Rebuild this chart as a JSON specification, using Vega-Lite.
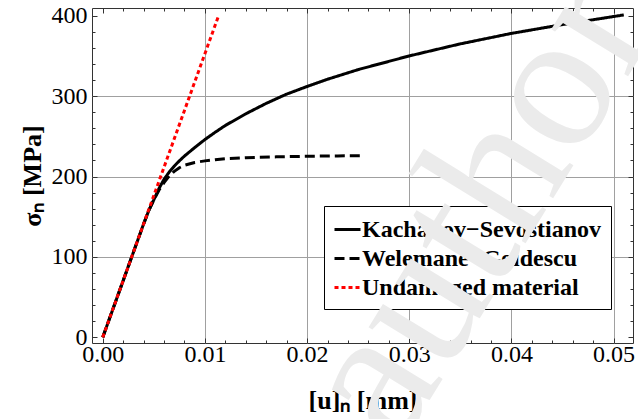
{
  "$schema": "https://vega.github.io/schema/vega-lite/v6.json",
  "width": 541,
  "height": 335,
  "autosize": "none",
  "padding": {"left": 92, "top": 8, "right": 5, "bottom": 76},
  "background": "white",
  "config": {
    "view": {"stroke": "#333333", "strokeWidth": 1},
    "font": "Liberation Serif",
    "axis": {"domain": false, "tickColor": "#333333", "tickWidth": 1, "grid": false, "labelFont": "Liberation Serif", "labelFontSize": 24, "labelColor": "black", "labelOverlap": false, "labelFlush": false, "labelBound": false}
  },
  "title": {
    "text": "author",
    "orient": "bottom",
    "anchor": "start",
    "frame": "group",
    "offset": 0,
    "font": "Liberation Serif",
    "fontSize": 196,
    "fontWeight": "normal",
    "color": "#ebebeb",
    "angle": -58.5,
    "align": "left",
    "baseline": "alphabetic",
    "dx": 128,
    "dy": 281
  },
  "data": {
    "values": [
      {"s": "Kachanov−Sevostianov", "x": 0, "y": 0},
      {"s": "Kachanov−Sevostianov", "x": 0.001, "y": 35.3},
      {"s": "Kachanov−Sevostianov", "x": 0.002, "y": 70.5},
      {"s": "Kachanov−Sevostianov", "x": 0.003, "y": 105.8},
      {"s": "Kachanov−Sevostianov", "x": 0.004, "y": 141},
      {"s": "Kachanov−Sevostianov", "x": 0.0045, "y": 157.5},
      {"s": "Kachanov−Sevostianov", "x": 0.005, "y": 171},
      {"s": "Kachanov−Sevostianov", "x": 0.0055, "y": 185},
      {"s": "Kachanov−Sevostianov", "x": 0.006, "y": 196.5},
      {"s": "Kachanov−Sevostianov", "x": 0.0065, "y": 205.5},
      {"s": "Kachanov−Sevostianov", "x": 0.007, "y": 213},
      {"s": "Kachanov−Sevostianov", "x": 0.0075, "y": 219.5},
      {"s": "Kachanov−Sevostianov", "x": 0.008, "y": 225.5},
      {"s": "Kachanov−Sevostianov", "x": 0.009, "y": 236},
      {"s": "Kachanov−Sevostianov", "x": 0.01, "y": 246},
      {"s": "Kachanov−Sevostianov", "x": 0.011, "y": 255},
      {"s": "Kachanov−Sevostianov", "x": 0.012, "y": 263.5},
      {"s": "Kachanov−Sevostianov", "x": 0.014, "y": 278},
      {"s": "Kachanov−Sevostianov", "x": 0.016, "y": 291},
      {"s": "Kachanov−Sevostianov", "x": 0.018, "y": 302.5},
      {"s": "Kachanov−Sevostianov", "x": 0.02, "y": 312},
      {"s": "Kachanov−Sevostianov", "x": 0.022, "y": 321},
      {"s": "Kachanov−Sevostianov", "x": 0.025, "y": 333},
      {"s": "Kachanov−Sevostianov", "x": 0.03, "y": 350},
      {"s": "Kachanov−Sevostianov", "x": 0.035, "y": 365},
      {"s": "Kachanov−Sevostianov", "x": 0.04, "y": 378},
      {"s": "Kachanov−Sevostianov", "x": 0.045, "y": 389},
      {"s": "Kachanov−Sevostianov", "x": 0.05, "y": 399},
      {"s": "Kachanov−Sevostianov", "x": 0.051, "y": 401},
      {"s": "Welemane−Goidescu", "x": 0, "y": 0},
      {"s": "Welemane−Goidescu", "x": 0.001, "y": 35.3},
      {"s": "Welemane−Goidescu", "x": 0.002, "y": 70.5},
      {"s": "Welemane−Goidescu", "x": 0.003, "y": 105.8},
      {"s": "Welemane−Goidescu", "x": 0.004, "y": 141},
      {"s": "Welemane−Goidescu", "x": 0.0045, "y": 157.5},
      {"s": "Welemane−Goidescu", "x": 0.005, "y": 171},
      {"s": "Welemane−Goidescu", "x": 0.0055, "y": 183},
      {"s": "Welemane−Goidescu", "x": 0.006, "y": 192.5},
      {"s": "Welemane−Goidescu", "x": 0.0065, "y": 200.5},
      {"s": "Welemane−Goidescu", "x": 0.007, "y": 206.5},
      {"s": "Welemane−Goidescu", "x": 0.0075, "y": 211},
      {"s": "Welemane−Goidescu", "x": 0.008, "y": 214},
      {"s": "Welemane−Goidescu", "x": 0.009, "y": 217.5},
      {"s": "Welemane−Goidescu", "x": 0.01, "y": 219.5},
      {"s": "Welemane−Goidescu", "x": 0.011, "y": 221},
      {"s": "Welemane−Goidescu", "x": 0.012, "y": 222.2},
      {"s": "Welemane−Goidescu", "x": 0.014, "y": 223.5},
      {"s": "Welemane−Goidescu", "x": 0.017, "y": 224.5},
      {"s": "Welemane−Goidescu", "x": 0.02, "y": 225.2},
      {"s": "Welemane−Goidescu", "x": 0.023, "y": 225.7},
      {"s": "Welemane−Goidescu", "x": 0.0255, "y": 226},
      {"s": "Undamaged material", "x": 0, "y": 0},
      {"s": "Undamaged material", "x": 0.01134, "y": 400}
    ]
  },
  "layer": [
    {
      "mark": {"type": "line", "opacity": 0},
      "encoding": {
        "x": {"field": "x", "type": "quantitative", "scale": {"domain": [-0.00105, 0.0519], "nice": false, "zero": false},
          "axis": {"orient": "bottom", "title": null, "values": [0.01, 0.02, 0.03, 0.04, 0.05], "ticks": false, "labels": false, "grid": true, "gridColor": "#a0a0a0", "gridWidth": 1}},
        "y": {"field": "y", "type": "quantitative", "scale": {"domain": [-7, 409.6], "nice": false, "zero": false},
          "axis": {"orient": "left", "title": null, "values": [100, 200, 300], "ticks": false, "labels": false, "grid": true, "gridColor": "#a0a0a0", "gridWidth": 1}},
        "detail": {"field": "s", "type": "nominal"}
      }
    },
    {
      "mark": {"type": "line", "strokeWidth": 3, "clip": true},
      "encoding": {
        "x": {
          "field": "x",
          "type": "quantitative",
          "scale": {"domain": [-0.00105, 0.0519], "nice": false, "zero": false},
          "axis": {
            "orient": "bottom",
            "title": "[u]ₙ [mm]",
            "titleFont": "Liberation Serif",
            "titleFontSize": 26,
            "titleFontWeight": "bold",
            "titleColor": "black",
            "titlePadding": 21,
            "values": [0, 0.01, 0.02, 0.03, 0.04, 0.05],
            "format": ".2f",
            "labelPadding": 4,
            "tickSize": -5
          }
        },
        "y": {
          "field": "y",
          "type": "quantitative",
          "scale": {"domain": [-7, 409.6], "nice": false, "zero": false},
          "axis": {
            "orient": "left",
            "title": "σₙ [MPa]",
            "titleFont": "Liberation Serif",
            "titleFontSize": 26,
            "titleFontWeight": "bold",
            "titleColor": "black",
            "titlePadding": 6,
            "values": [0, 100, 200, 300, 400],
            "labelPadding": 10,
            "tickSize": -5
          }
        },
        "color": {
          "field": "s",
          "type": "nominal",
          "scale": {
            "domain": ["Kachanov−Sevostianov", "Welemane−Goidescu", "Undamaged material"],
            "range": ["black", "black", "#ff0000"]
          },
          "legend": {
            "title": null,
            "orient": "none",
            "legendX": 232,
            "legendY": 198,
            "padding": 9,
            "fillColor": "white",
            "strokeColor": "black",
            "symbolType": "stroke",
            "symbolSize": 676,
            "symbolStrokeWidth": 3,
            "labelFont": "Liberation Serif",
            "labelFontSize": 24,
            "labelFontWeight": "bold",
            "labelColor": "black",
            "labelOffset": 0,
            "labelLimit": 400,
            "rowPadding": 2
          }
        },
        "strokeDash": {
          "field": "s",
          "type": "nominal",
          "scale": {
            "domain": ["Kachanov−Sevostianov", "Welemane−Goidescu", "Undamaged material"],
            "range": [[1, 0], [10, 5], [4, 3]]
          },
          "legend": {
            "title": null,
            "orient": "none",
            "legendX": 232,
            "legendY": 198,
            "padding": 9,
            "fillColor": "white",
            "strokeColor": "black",
            "symbolType": "stroke",
            "symbolSize": 676,
            "symbolStrokeWidth": 3,
            "labelFont": "Liberation Serif",
            "labelFontSize": 24,
            "labelFontWeight": "bold",
            "labelColor": "black",
            "labelOffset": 0,
            "labelLimit": 400,
            "rowPadding": 2
          }
        }
      }
    },
    {
      "mark": {"type": "line", "opacity": 0},
      "encoding": {
        "x": {"field": "x", "type": "quantitative", "scale": {"domain": [-0.00105, 0.0519], "nice": false, "zero": false},
          "axis": {"orient": "bottom", "title": null, "values": [0.002, 0.004, 0.006, 0.008, 0.012, 0.014, 0.016, 0.018, 0.022, 0.024, 0.026, 0.028, 0.032, 0.034, 0.036, 0.038, 0.042, 0.044, 0.046, 0.048], "labels": false, "tickSize": -3}},
        "y": {"field": "y", "type": "quantitative", "scale": {"domain": [-7, 409.6], "nice": false, "zero": false},
          "axis": {"orient": "left", "title": null, "values": [20, 40, 60, 80, 120, 140, 160, 180, 220, 240, 260, 280, 320, 340, 360, 380], "labels": false, "tickSize": -3}},
        "detail": {"field": "s", "type": "nominal"}
      }
    },
    {
      "mark": {"type": "line", "opacity": 0},
      "encoding": {
        "x": {"field": "x", "type": "quantitative", "scale": {"domain": [-0.00105, 0.0519], "nice": false, "zero": false},
          "axis": {"orient": "top", "title": null, "values": [0, 0.01, 0.02, 0.03, 0.04, 0.05], "labels": false, "tickSize": -5}},
        "y": {"field": "y", "type": "quantitative", "scale": {"domain": [-7, 409.6], "nice": false, "zero": false},
          "axis": {"orient": "right", "title": null, "values": [0, 100, 200, 300, 400], "labels": false, "tickSize": -5}},
        "detail": {"field": "s", "type": "nominal"}
      }
    },
    {
      "mark": {"type": "line", "opacity": 0},
      "encoding": {
        "x": {"field": "x", "type": "quantitative", "scale": {"domain": [-0.00105, 0.0519], "nice": false, "zero": false},
          "axis": {"orient": "top", "title": null, "values": [0.002, 0.004, 0.006, 0.008, 0.012, 0.014, 0.016, 0.018, 0.022, 0.024, 0.026, 0.028, 0.032, 0.034, 0.036, 0.038, 0.042, 0.044, 0.046, 0.048], "labels": false, "tickSize": -3}},
        "y": {"field": "y", "type": "quantitative", "scale": {"domain": [-7, 409.6], "nice": false, "zero": false},
          "axis": {"orient": "right", "title": null, "values": [20, 40, 60, 80, 120, 140, 160, 180, 220, 240, 260, 280, 320, 340, 360, 380], "labels": false, "tickSize": -3}},
        "detail": {"field": "s", "type": "nominal"}
      }
    }
  ],
  "resolve": {"axis": {"x": "independent", "y": "independent"}}
}
